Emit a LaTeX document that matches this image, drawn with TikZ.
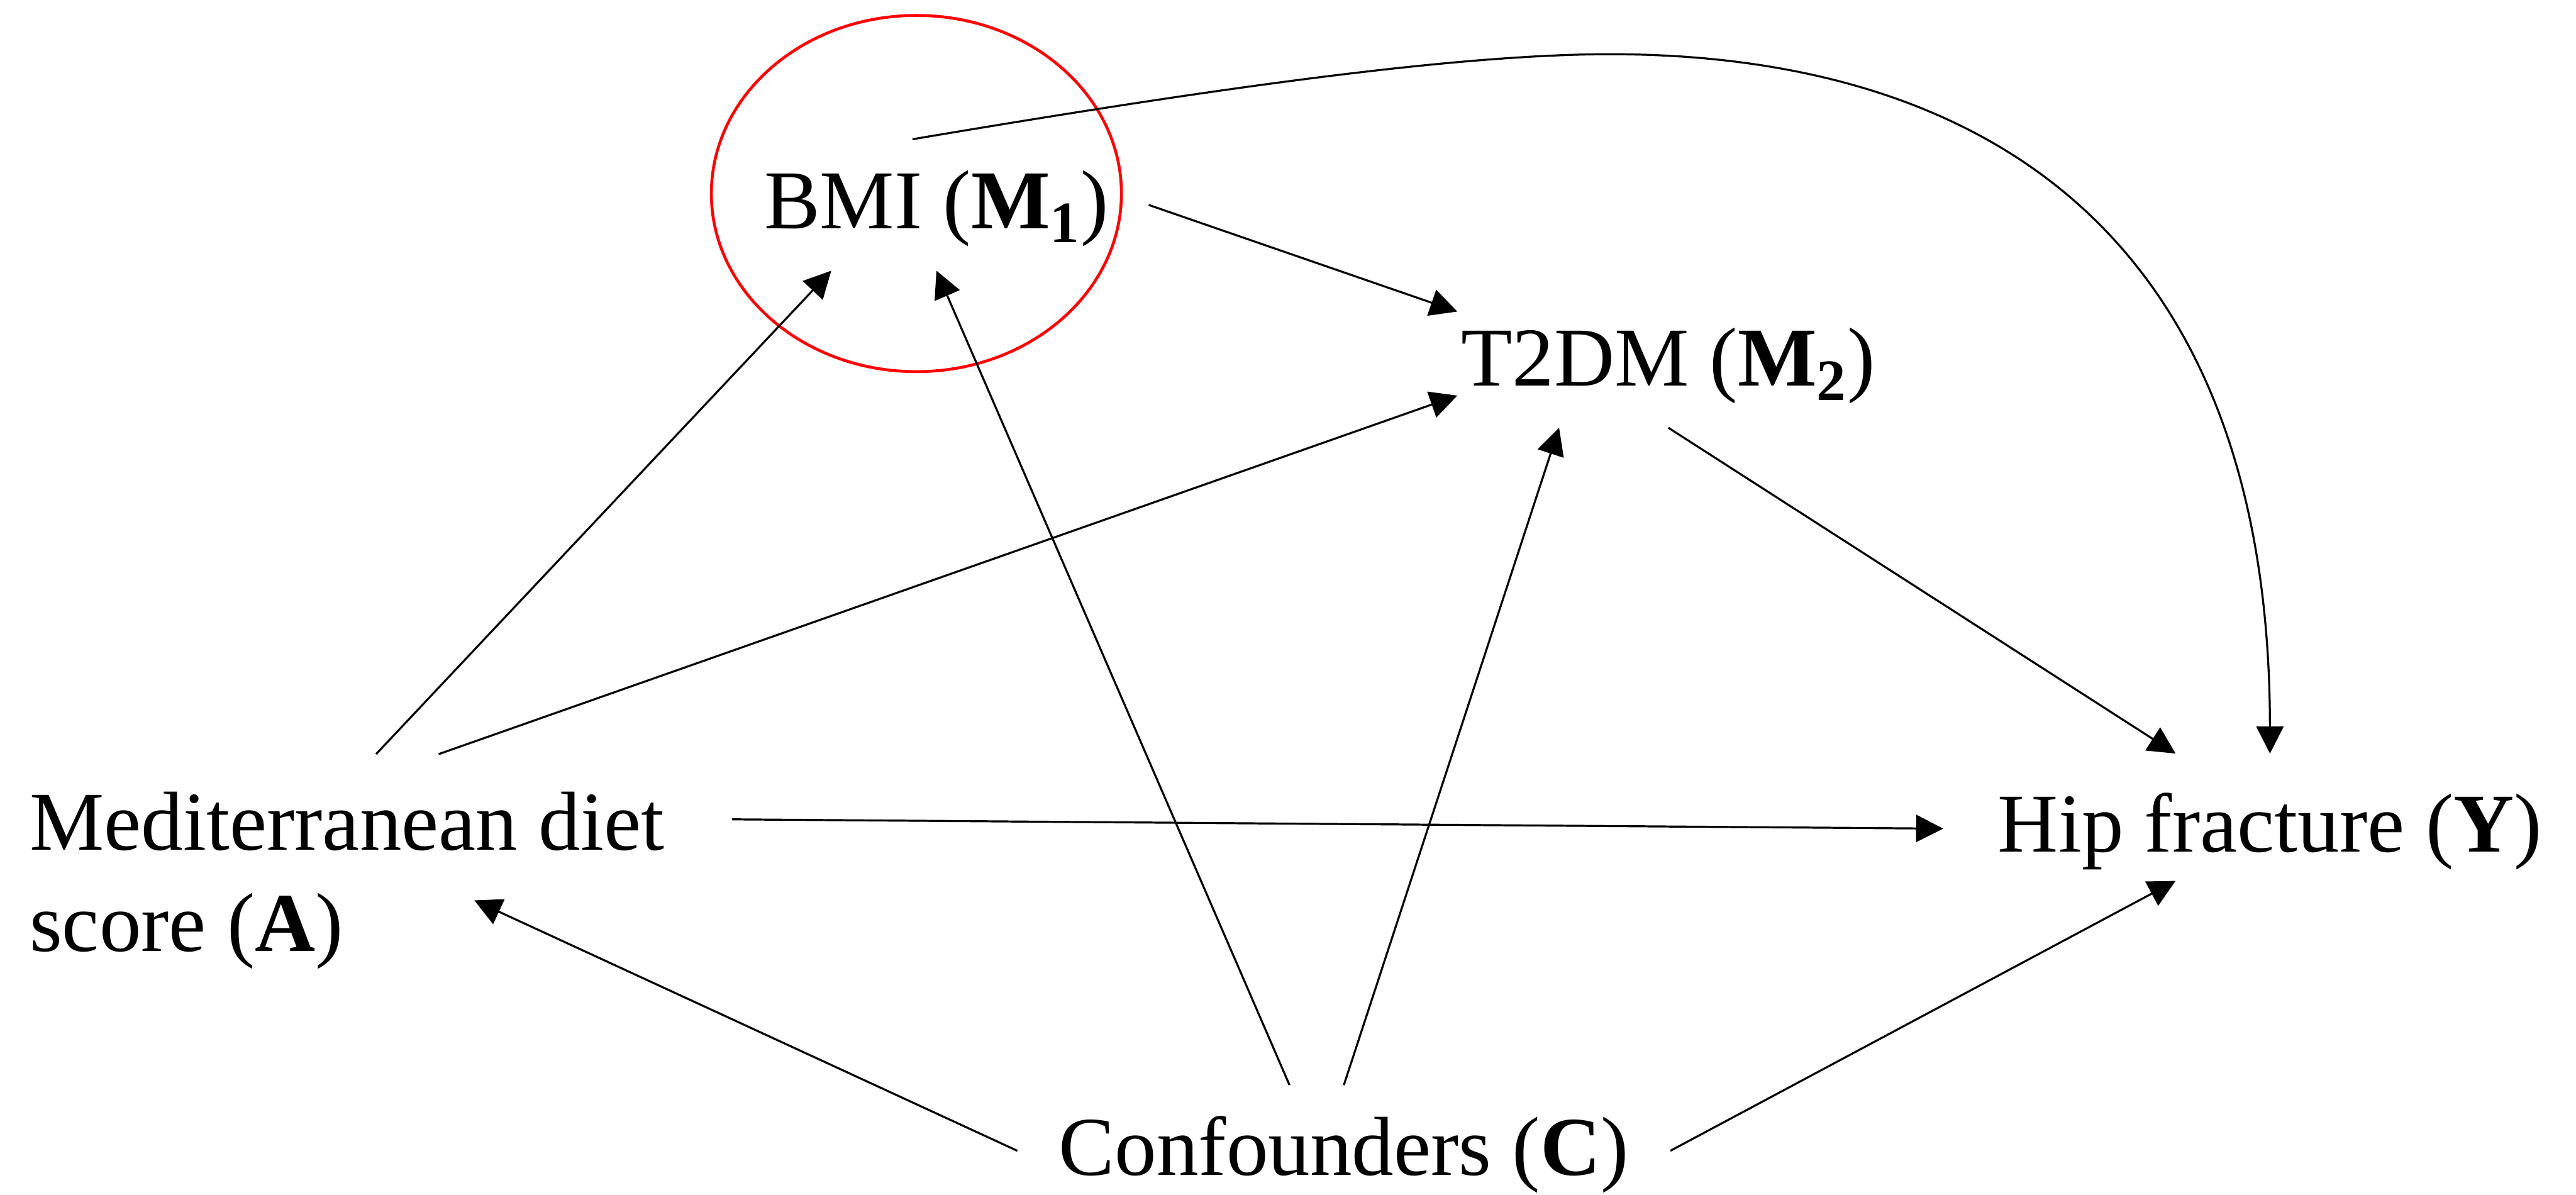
\documentclass[tikz,border=0pt]{standalone}
\usepackage{fontspec}
\setmainfont{Liberation Serif}
\usetikzlibrary{arrows.meta}

\begin{document}
\begin{tikzpicture}[
    var/.style={inner ysep=0pt, font=\fontsize{29pt}{35.15pt}\selectfont},
    edge/.style={-{Triangle[length=3.3mm, width=3.3mm]}, line width=0.7pt},
    ring/.style={draw=red, line width=1pt}
]
\useasboundingbox (0,0) rectangle (31.36,14.54);

% ======================
% Variables
% ======================
\node[var, anchor=north west, inner xsep=8.2mm, inner ysep=4.5mm, align=left] (A) at (-0.466,5.36)
    {Mediterranean diet\\score (\textbf{A})};
\node[var, anchor=base, inner xsep=4.8mm, text height=10.8mm, text depth=5.06mm] (M1) at (11.40,11.758)
    {BMI (\textbf{M}\textsubscript{\textbf{1}})};
\node[var, anchor=base, inner xsep=0.4mm, text height=9mm, text depth=5mm] (M2) at (20.31,9.84)
    {T2DM (\textbf{M}\textsubscript{\textbf{2}})};
\node[var, anchor=base, inner xsep=6.6mm, text height=11.88mm, text depth=3.48mm] (Y) at (27.634,4.172)
    {Hip fracture (\textbf{Y})};
\node[var, anchor=base, inner xsep=5mm, text height=10.9mm, text depth=2.2mm] (C) at (16.36,0.235)
    {Confounders (\textbf{C})};

% ======================
% Highlight round BMI
% ======================
\draw[ring] (11.156,12.184) ellipse (2.496 and 2.168);

% ======================
% Arrows
% ======================
\draw[edge] (A.77) -- (M1.212);
\draw[edge] (A.54) -- (M2.187);
\draw[edge] (A.9)  -- (Y.182);
\draw[edge] (M1.east) -- (M2.north west);
\draw[edge] (M1.110) .. controls (14.40,13.40) and (17.60,13.88) .. (19.60,13.88)
                     .. controls (23.60,13.88) and (27.63,12.16) .. (Y.north);
\draw[edge] (M2.south) -- (Y.146);
\draw[edge] (C.182)   -- ([shift={(6.24,-1.78)}]A.north west);
\draw[edge] (C.135)   -- (M1.south);
\draw[edge] (C.north) -- (M2.208);
\draw[edge] (C.-2)    -- (Y.214);

\end{tikzpicture}
\end{document}
